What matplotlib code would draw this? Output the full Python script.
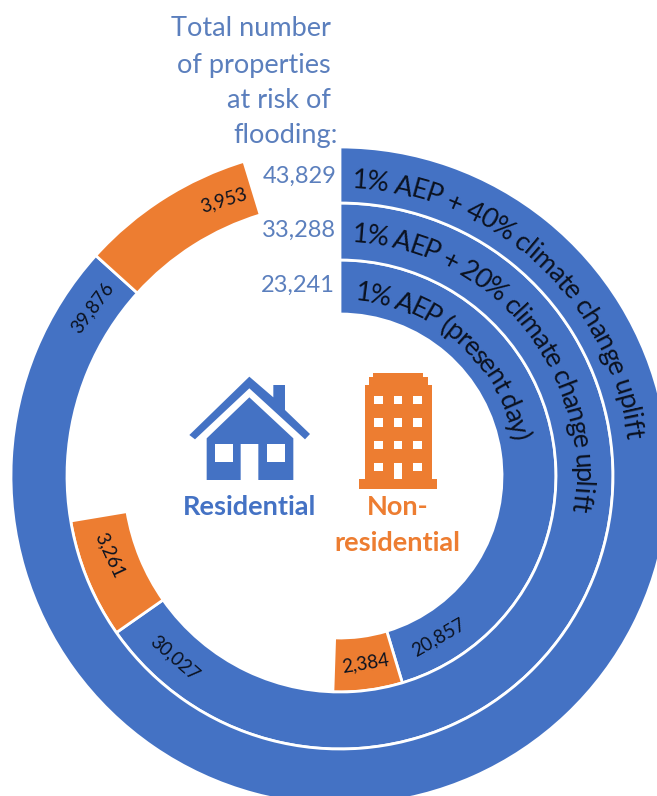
#!/usr/bin/env python3
"""Properties at risk of flooding, drawn as three concentric part-rings."""
import numpy as np
import matplotlib
matplotlib.use("Agg")
import matplotlib.pyplot as plt
from matplotlib.font_manager import FontProperties, findfont, get_font
from matplotlib.ft2font import LoadFlags
from matplotlib.patches import Polygon, Rectangle

# ── data ──
scenarios = ["1% AEP (present day)",
             "1% AEP + 20% climate change uplift",
             "1% AEP + 40% climate change uplift"]
residential = [20857, 30027, 39876]
non_residential = [2384, 3261, 3953]
totals = [23241, 33288, 43829]
full_circle = 46000  # value that one whole turn of a ring stands for
title_lines = ["Total number", "of properties", "at risk of", "flooding:"]

# ── style ──
W, H = 657, 796
BLUE = "#4472C4"
ORANGE = "#ED7D31"
TEXT_BLUE = "#5B7FBD"
FONT = "Lato"
CX, CY = 340, 476
ring_radii = [(162, 216), (216, 273), (273, 329)]
caption_geom = [(176, 5.0, 78.5), (234, 3.0, 98.5), (288, 2.4, 82.7)]
total_y = [285, 230, 176]
total_right = [335, 336, 337]
title_right = [331, 331, 331, 338]
title_y = [28, 65, 100, 136]
value_labels = [  # (x, y, rotation) of residential and non-residential values
    ((438, 637, 30), (365, 663, 9)),
    ((175, 658, -41), (110, 555, -65)),
    ((92, 308, 53), (224, 200, 17)),
]


def y_up(y):
    """Image-style y (from the top) to axes y."""
    return H - y


def curved_text(ax, s, radius, start_deg, end_deg, size):
    """Lay s along a circle, clockwise from start_deg to end_deg (0 = top)."""
    fp = FontProperties(family=FONT, size=size)
    font = get_font(findfont(fp))
    font.set_size(size, 100)
    adv = np.array([font.load_char(ord(c), flags=LoadFlags.NO_HINTING).linearHoriAdvance / 65536
                    for c in s])
    mid = (np.cumsum(adv) - adv / 2) / adv.sum()
    for c, f in zip(s, mid):
        theta = np.radians(start_deg + (end_deg - start_deg) * f)
        ax.text(CX + radius * np.sin(theta), y_up(CY) + radius * np.cos(theta), c,
                fontproperties=fp, color="#0B1220", rotation=-np.degrees(theta),
                rotation_mode="anchor", ha="center", va="baseline")


def draw_house(ax, ox, oy):
    """House icon; points are in 1/3 px relative to (ox, oy)."""
    def pts(seq):
        return [(ox + x / 3, y_up(oy + y / 3)) for x, y in seq]
    roof = [(238, 50), (58, 225), (75, 238), (238, 85), (405, 238), (420, 222),
            (345, 150), (345, 75), (310, 75), (310, 112)]
    body = [(238, 112), (110, 235), (110, 360), (212, 360), (212, 252), (265, 252),
            (265, 360), (370, 360), (370, 235)]
    ax.add_patch(Polygon(pts(roof), closed=True, fc=BLUE, ec="none"))
    ax.add_patch(Polygon(pts(body), closed=True, fc=BLUE, ec="none"))
    for x0 in [135, 292]:
        ax.add_patch(Polygon(pts([(x0, 252), (x0 + 53, 252), (x0 + 53, 305), (x0, 305)]),
                             closed=True, fc="white", ec="none"))


def draw_building(ax, ox, oy):
    """Office block icon, same units as draw_house."""
    def pts(seq):
        return [(ox + x / 3, y_up(oy + y / 3)) for x, y in seq]
    outline = [(610, 38), (760, 38), (760, 52), (773, 52), (773, 75), (785, 75), (785, 358),
               (800, 358), (800, 388), (568, 388), (568, 358), (585, 358), (585, 75),
               (597, 75), (597, 52), (610, 52)]
    ax.add_patch(Polygon(pts(outline), closed=True, fc=ORANGE, ec="none"))
    for col, xc in enumerate([626, 684, 742]):
        for row, yc in enumerate([120, 187, 255, 321]):
            if row == 3 and col == 1:
                continue
            x0, y1 = pts([(xc - 13, yc + 13)])[0]
            ax.add_patch(Rectangle((x0, y1), 26 / 3, 26 / 3, fc="white", ec="none"))
    x0, y1 = pts([(671, 358)])[0]
    ax.add_patch(Rectangle((x0, y1), 26 / 3, 50 / 3, fc="white", ec="none"))


def main():
    plt.rcParams["font.family"] = [FONT, "DejaVu Sans"]
    fig = plt.figure(figsize=(W / 100, H / 100), dpi=100)
    ax = fig.add_axes([0, 0, 1, 1])

    # ── rings: the unfilled remainder of each turn is an invisible wedge ──
    for i in range(3):
        r_in, r_out = ring_radii[i]
        rest = full_circle - residential[i] - non_residential[i]
        wedges, _ = ax.pie([residential[i], non_residential[i], rest],
                           colors=[BLUE, ORANGE, "none"], startangle=90, counterclock=False,
                           center=(CX, y_up(CY)), radius=r_out,
                           wedgeprops=dict(width=r_out - r_in, edgecolor="white", linewidth=2.0))
        wedges[2].set_edgecolor("none")

    ax.set_xlim(0, W)
    ax.set_ylim(0, H)
    ax.set_aspect("equal")
    ax.axis("off")

    # ── scenario captions along the rings ──
    for s, (radius, a0, a1) in zip(scenarios, caption_geom):
        curved_text(ax, s, radius, a0, a1, 19.5)

    # ── values on the segments ──
    for i in range(3):
        for val, (x, y, rot) in zip((residential[i], non_residential[i]), value_labels[i]):
            ax.text(x, y_up(y), f"{val:,}", fontsize=13.5, color="#0B1220", rotation=rot,
                    rotation_mode="anchor", ha="center", va="center")

    # ── totals and heading ──
    for i in range(3):
        ax.text(total_right[i], y_up(total_y[i]), f"{totals[i]:,}", fontsize=17, color=TEXT_BLUE,
                ha="right", va="center")
    for line, x, y in zip(title_lines, title_right, title_y):
        ax.text(x, y_up(y), line, fontsize=19.5, color=TEXT_BLUE, ha="right", va="center")

    # ── centre legend ──
    draw_house(ax, 170, 360)
    draw_building(ax, 170, 360)
    ax.text(250, y_up(507), "Residential", fontsize=19.5, fontweight="bold", color=BLUE,
            ha="center", va="center")
    ax.text(398, y_up(507), "Non-", fontsize=19.5, fontweight="bold", color=ORANGE,
            ha="center", va="center")
    ax.text(397, y_up(543), "residential", fontsize=19.5, fontweight="bold", color=ORANGE,
            ha="center", va="center")

    fig.savefig("out.png", dpi=100)
    plt.close(fig)


if __name__ == "__main__":
    main()
